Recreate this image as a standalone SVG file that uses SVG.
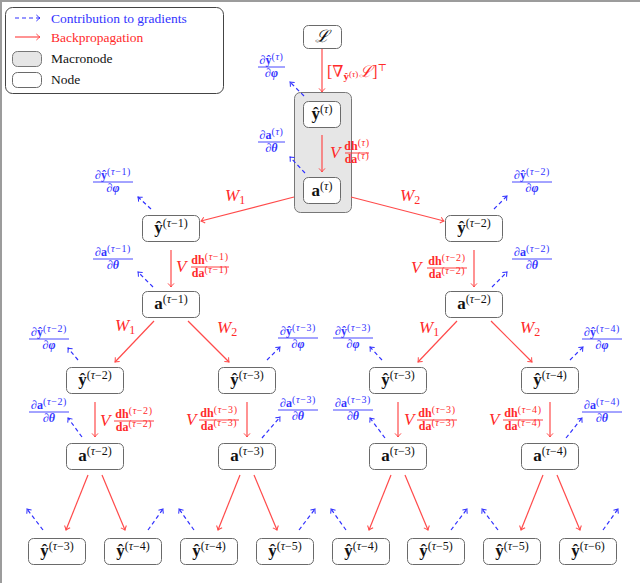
<svg xmlns="http://www.w3.org/2000/svg" width="640" height="583" viewBox="0 0 640 583" font-family="'Liberation Serif','DejaVu Serif',serif">
<defs>
<style>
text{font-family:"Liberation Serif","DejaVu Serif",serif}
.node{fill:#fff;stroke:#6a6a6a;stroke-width:1}
.macro{fill:#e6e6e6;stroke:#777;stroke-width:1}
.bp{stroke:#ff4a4a;stroke-width:1.2;fill:none;marker-end:url(#ar)}
.gr{stroke:#3030ff;stroke-width:1.2;fill:none;stroke-dasharray:4 3;marker-end:url(#ab)}
.nl{font-size:17px;text-anchor:middle;fill:#111}
.b{font-weight:bold}
.i{font-style:italic}
.bi{font-weight:bold;font-style:italic}
.sup{font-size:12px;font-weight:normal}
.blue{fill:#3333ff}
.red{fill:#ff2a2a}
.fn{font-size:12px;text-anchor:middle}
.fs{font-size:10px;font-weight:normal;letter-spacing:0.6px}
.flb{stroke:#3333ff;stroke-width:0.9}
.flr{stroke:#ff2a2a;stroke-width:0.9}
.V{font-size:17px;font-style:italic}
.W{font-size:17px;font-style:italic}
.lg{font-size:13.5px}
</style>
<marker id="ar" viewBox="-5 -4 6 8" refX="0" refY="0" markerWidth="6" markerHeight="8" orient="auto" markerUnits="userSpaceOnUse">
<path d="M-3.6,-3 Q-1.2,-0.7 0,0 Q-1.2,0.7 -3.6,3" fill="none" stroke="#ff4a4a" stroke-width="1"/>
</marker>
<marker id="ab" viewBox="-5 -4 6 8" refX="0" refY="0" markerWidth="6" markerHeight="8" orient="auto" markerUnits="userSpaceOnUse">
<path d="M-3.6,-3 Q-1.2,-0.7 0,0 Q-1.2,0.7 -3.6,3" fill="none" stroke="#3030ff" stroke-width="1"/>
</marker>
</defs>
<rect x="0" y="0" width="640" height="583" fill="#fff"/>
<line x1="0" y1="1" x2="640" y2="1" stroke="#9c9c9c" stroke-width="2"/>
<line x1="1" y1="0" x2="1" y2="583" stroke="#9c9c9c" stroke-width="2"/>

<g id="legend">
<rect x="5.5" y="7.5" width="218" height="86" rx="7" fill="#fff" stroke="#444" stroke-width="1"/>
<line class="gr" x1="15" y1="18" x2="40" y2="18"/>
<text class="lg blue" x="51" y="23">Contribution to gradients</text>
<line class="bp" x1="15" y1="37" x2="40" y2="37"/>
<text class="lg red" x="51" y="42">Backpropagation</text>
<rect class="macro" x="12.5" y="51.5" width="29" height="15" rx="5"/>
<text class="lg" x="51" y="63" fill="#111">Macronode</text>
<rect class="node" x="12.5" y="72.5" width="29" height="15" rx="5"/>
<text class="lg" x="51" y="84" fill="#111">Node</text>
</g>

<g id="macronode"><rect class="macro" x="294.5" y="92.5" width="57" height="120" rx="6"/></g>

<g id="connectors">
<line class="bp" x1="322" y1="48" x2="322" y2="92"/>
<line class="bp" x1="322" y1="135" x2="322" y2="172"/>
<line class="bp" x1="294" y1="197" x2="201" y2="221"/>
<line class="bp" x1="351" y1="197" x2="444" y2="221"/>
<line class="bp" x1="171" y1="250" x2="171" y2="287"/>
<line class="bp" x1="474" y1="250" x2="474" y2="287"/>
<line class="bp" x1="154" y1="321" x2="115" y2="362"/>
<line class="bp" x1="188" y1="321" x2="229" y2="362"/>
<line class="bp" x1="457" y1="321" x2="418" y2="362"/>
<line class="bp" x1="491" y1="321" x2="532" y2="362"/>
<line class="bp" x1="95" y1="402" x2="95" y2="437"/>
<line class="bp" x1="247" y1="402" x2="247" y2="437"/>
<line class="bp" x1="398" y1="402" x2="398" y2="437"/>
<line class="bp" x1="550" y1="402" x2="550" y2="437"/>
<line class="bp" x1="88" y1="475" x2="66" y2="530"/>
<line class="bp" x1="102" y1="475" x2="125" y2="530"/>
<line class="bp" x1="240" y1="475" x2="218" y2="530"/>
<line class="bp" x1="254" y1="475" x2="277" y2="530"/>
<line class="bp" x1="391" y1="475" x2="369" y2="530"/>
<line class="bp" x1="405" y1="475" x2="428" y2="530"/>
<line class="bp" x1="543" y1="475" x2="521" y2="530"/>
<line class="bp" x1="557" y1="475" x2="580" y2="530"/>

<line class="gr" x1="304" y1="96" x2="290" y2="82"/>
<line class="gr" x1="305" y1="173" x2="290" y2="157"/>
<line class="gr" x1="151" y1="209" x2="138" y2="197"/>
<line class="gr" x1="153" y1="287" x2="138" y2="272"/>
<line class="gr" x1="494" y1="209" x2="507" y2="196"/>
<line class="gr" x1="492" y1="287" x2="507" y2="272"/>
<line class="gr" x1="78" y1="360" x2="68" y2="348"/>
<line class="gr" x1="82" y1="437" x2="68" y2="418"/>
<line class="gr" x1="267" y1="360" x2="280" y2="347"/>
<line class="gr" x1="262" y1="438" x2="280" y2="417"/>
<line class="gr" x1="382" y1="360" x2="370" y2="347"/>
<line class="gr" x1="385" y1="438" x2="370" y2="418"/>
<line class="gr" x1="570" y1="360" x2="583" y2="347"/>
<line class="gr" x1="566" y1="438" x2="582" y2="418"/>
<line class="gr" x1="43" y1="530" x2="27" y2="509"/>
<line class="gr" x1="148" y1="530" x2="163" y2="509"/>
<line class="gr" x1="194" y1="530" x2="179" y2="509"/>
<line class="gr" x1="299" y1="530" x2="315" y2="509"/>
<line class="gr" x1="346" y1="530" x2="331" y2="509"/>
<line class="gr" x1="451" y1="530" x2="467" y2="509"/>
<line class="gr" x1="498" y1="530" x2="482" y2="509"/>
<line class="gr" x1="603" y1="530" x2="618" y2="509"/>
</g>

<g id="edge-labels">
<text class="red" x="327" y="77" font-size="16">[∇<tspan class="b" font-size="11" dy="3">ŷ</tspan><tspan font-size="9" dy="-3">(<tspan class="i">τ</tspan>)</tspan><tspan class="i" dx="1" dy="0">ℒ</tspan>]<tspan font-size="10" dy="-6">⊤</tspan></text>
<text class="red V" x="330" y="158" font-size="16">V</text>
<g class="red"><text class="fn b" x="357" y="150">dh<tspan class="fs" dy="-4">(<tspan class="i">τ</tspan>)</tspan></text><line class="flr" x1="345" y1="153" x2="369" y2="153"/><text class="fn b" x="357" y="163">da<tspan class="fs" dy="-4">(<tspan class="i">τ</tspan>)</tspan></text></g>

<text class="red W" x="225" y="201">W<tspan font-size="12" dy="3" font-style="normal">1</tspan></text>
<text class="red W" x="400" y="201">W<tspan font-size="12" dy="3" font-style="normal">2</tspan></text>
<text class="red W" x="115" y="331">W<tspan font-size="12" dy="3" font-style="normal">1</tspan></text>
<text class="red W" x="217" y="333">W<tspan font-size="12" dy="3" font-style="normal">2</tspan></text>
<text class="red W" x="419" y="333">W<tspan font-size="12" dy="3" font-style="normal">1</tspan></text>
<text class="red W" x="520" y="333">W<tspan font-size="12" dy="3" font-style="normal">2</tspan></text>

<text class="red V" x="176" y="272">V</text>
<g class="red"><text class="fn b" x="210" y="264">dh<tspan class="fs" dy="-4">(<tspan class="i">τ</tspan>−1)</tspan></text><line class="flr" x1="191" y1="267" x2="229" y2="267"/><text class="fn b" x="210" y="277">da<tspan class="fs" dy="-4">(<tspan class="i">τ</tspan>−1)</tspan></text></g>
<text class="red V" x="411" y="273">V</text>
<g class="red"><text class="fn b" x="447" y="265">dh<tspan class="fs" dy="-4">(<tspan class="i">τ</tspan>−2)</tspan></text><line class="flr" x1="427" y1="268" x2="467" y2="268"/><text class="fn b" x="447" y="278">da<tspan class="fs" dy="-4">(<tspan class="i">τ</tspan>−2)</tspan></text></g>
<text class="red V" x="100" y="426">V</text>
<g class="red"><text class="fn b" x="134" y="418">dh<tspan class="fs" dy="-4">(<tspan class="i">τ</tspan>−2)</tspan></text><line class="flr" x1="114" y1="421" x2="154" y2="421"/><text class="fn b" x="134" y="431">da<tspan class="fs" dy="-4">(<tspan class="i">τ</tspan>−2)</tspan></text></g>
<text class="red V" x="186" y="425">V</text>
<g class="red"><text class="fn b" x="219" y="417">dh<tspan class="fs" dy="-4">(<tspan class="i">τ</tspan>−3)</tspan></text><line class="flr" x1="199" y1="420" x2="239" y2="420"/><text class="fn b" x="219" y="430">da<tspan class="fs" dy="-4">(<tspan class="i">τ</tspan>−3)</tspan></text></g>
<text class="red V" x="404" y="425">V</text>
<g class="red"><text class="fn b" x="437" y="417">dh<tspan class="fs" dy="-4">(<tspan class="i">τ</tspan>−3)</tspan></text><line class="flr" x1="417" y1="420" x2="457" y2="420"/><text class="fn b" x="437" y="430">da<tspan class="fs" dy="-4">(<tspan class="i">τ</tspan>−3)</tspan></text></g>
<text class="red V" x="489" y="425">V</text>
<g class="red"><text class="fn b" x="523" y="417">dh<tspan class="fs" dy="-4">(<tspan class="i">τ</tspan>−4)</tspan></text><line class="flr" x1="503" y1="420" x2="543" y2="420"/><text class="fn b" x="523" y="430">da<tspan class="fs" dy="-4">(<tspan class="i">τ</tspan>−4)</tspan></text></g>

<g class="blue"><text class="fn" x="271.5" y="64">∂<tspan class="b">ŷ</tspan><tspan class="fs" dy="-4">(<tspan class="i">τ</tspan>)</tspan></text><line class="flb" x1="258" y1="67" x2="285" y2="67"/><text class="fn" x="271.5" y="77">∂<tspan class="bi">φ</tspan></text></g>
<g class="blue"><text class="fn" x="271.5" y="139">∂<tspan class="b">a</tspan><tspan class="fs" dy="-4">(<tspan class="i">τ</tspan>)</tspan></text><line class="flb" x1="258" y1="142" x2="285" y2="142"/><text class="fn" x="271.5" y="152">∂<tspan class="bi">θ</tspan></text></g>
<g class="blue"><text class="fn" x="113" y="179">∂<tspan class="b">ŷ</tspan><tspan class="fs" dy="-4">(<tspan class="i">τ</tspan>−1)</tspan></text><line class="flb" x1="93" y1="182" x2="133" y2="182"/><text class="fn" x="113" y="192">∂<tspan class="bi">φ</tspan></text></g>
<g class="blue"><text class="fn" x="113" y="256">∂<tspan class="b">a</tspan><tspan class="fs" dy="-4">(<tspan class="i">τ</tspan>−1)</tspan></text><line class="flb" x1="93" y1="259" x2="133" y2="259"/><text class="fn" x="113" y="269">∂<tspan class="bi">θ</tspan></text></g>
<g class="blue"><text class="fn" x="532" y="179">∂<tspan class="b">ŷ</tspan><tspan class="fs" dy="-4">(<tspan class="i">τ</tspan>−2)</tspan></text><line class="flb" x1="512" y1="182" x2="552" y2="182"/><text class="fn" x="532" y="192">∂<tspan class="bi">φ</tspan></text></g>
<g class="blue"><text class="fn" x="532" y="256">∂<tspan class="b">a</tspan><tspan class="fs" dy="-4">(<tspan class="i">τ</tspan>−2)</tspan></text><line class="flb" x1="512" y1="259" x2="552" y2="259"/><text class="fn" x="532" y="269">∂<tspan class="bi">θ</tspan></text></g>
<g class="blue"><text class="fn" x="49" y="336">∂<tspan class="b">ŷ</tspan><tspan class="fs" dy="-4">(<tspan class="i">τ</tspan>−2)</tspan></text><line class="flb" x1="29" y1="339" x2="69" y2="339"/><text class="fn" x="49" y="349">∂<tspan class="bi">φ</tspan></text></g>
<g class="blue"><text class="fn" x="49" y="409">∂<tspan class="b">a</tspan><tspan class="fs" dy="-4">(<tspan class="i">τ</tspan>−2)</tspan></text><line class="flb" x1="29" y1="412" x2="69" y2="412"/><text class="fn" x="49" y="422">∂<tspan class="bi">θ</tspan></text></g>
<g class="blue"><text class="fn" x="298" y="335">∂<tspan class="b">ŷ</tspan><tspan class="fs" dy="-4">(<tspan class="i">τ</tspan>−3)</tspan></text><line class="flb" x1="278" y1="338" x2="318" y2="338"/><text class="fn" x="298" y="348">∂<tspan class="bi">φ</tspan></text></g>
<g class="blue"><text class="fn" x="298" y="407">∂<tspan class="b">a</tspan><tspan class="fs" dy="-4">(<tspan class="i">τ</tspan>−3)</tspan></text><line class="flb" x1="278" y1="410" x2="318" y2="410"/><text class="fn" x="298" y="420">∂<tspan class="bi">θ</tspan></text></g>
<g class="blue"><text class="fn" x="353" y="335">∂<tspan class="b">ŷ</tspan><tspan class="fs" dy="-4">(<tspan class="i">τ</tspan>−3)</tspan></text><line class="flb" x1="333" y1="338" x2="373" y2="338"/><text class="fn" x="353" y="348">∂<tspan class="bi">φ</tspan></text></g>
<g class="blue"><text class="fn" x="353" y="407">∂<tspan class="b">a</tspan><tspan class="fs" dy="-4">(<tspan class="i">τ</tspan>−3)</tspan></text><line class="flb" x1="333" y1="410" x2="373" y2="410"/><text class="fn" x="353" y="420">∂<tspan class="bi">θ</tspan></text></g>
<g class="blue"><text class="fn" x="602" y="336">∂<tspan class="b">ŷ</tspan><tspan class="fs" dy="-4">(<tspan class="i">τ</tspan>−4)</tspan></text><line class="flb" x1="582" y1="339" x2="622" y2="339"/><text class="fn" x="602" y="349">∂<tspan class="bi">φ</tspan></text></g>
<g class="blue"><text class="fn" x="602" y="409">∂<tspan class="b">a</tspan><tspan class="fs" dy="-4">(<tspan class="i">τ</tspan>−4)</tspan></text><line class="flb" x1="582" y1="412" x2="622" y2="412"/><text class="fn" x="602" y="422">∂<tspan class="bi">θ</tspan></text></g>
</g>

<g id="n-L"><rect class="node" x="303.5" y="25.5" width="38" height="23" rx="5"/><text class="nl i" x="322" y="42" font-size="16">ℒ</text></g>
<g id="n-y-t"><rect class="node" x="303.5" y="101.5" width="37" height="26" rx="5"/><text class="nl" x="322" y="119"><tspan class="b">ŷ</tspan><tspan class="sup" dy="-6">(<tspan class="i">τ</tspan>)</tspan></text></g>
<g id="n-a-t"><rect class="node" x="303.5" y="177.5" width="37" height="26" rx="5"/><text class="nl" x="322" y="196"><tspan class="b">a</tspan><tspan class="sup" dy="-6">(<tspan class="i">τ</tspan>)</tspan></text></g>

<g id="n-y-t1"><rect class="node" x="142.5" y="215.5" width="57" height="26" rx="5"/><text class="nl" x="171" y="233"><tspan class="b">ŷ</tspan><tspan class="sup" dy="-6">(<tspan class="i">τ</tspan>−1)</tspan></text></g>
<g id="n-a-t1"><rect class="node" x="142.5" y="291.5" width="57" height="26" rx="5"/><text class="nl" x="171" y="309"><tspan class="b">a</tspan><tspan class="sup" dy="-6">(<tspan class="i">τ</tspan>−1)</tspan></text></g>
<g id="n-y-t2"><rect class="node" x="445.5" y="215.5" width="57" height="26" rx="5"/><text class="nl" x="474" y="233"><tspan class="b">ŷ</tspan><tspan class="sup" dy="-6">(<tspan class="i">τ</tspan>−2)</tspan></text></g>
<g id="n-a-t2"><rect class="node" x="445.5" y="291.5" width="57" height="26" rx="5"/><text class="nl" x="474" y="309"><tspan class="b">a</tspan><tspan class="sup" dy="-6">(<tspan class="i">τ</tspan>−2)</tspan></text></g>

<g id="n-y-t2-l"><rect class="node" x="66.5" y="367.5" width="57" height="26" rx="5"/><text class="nl" x="95" y="385"><tspan class="b">ŷ</tspan><tspan class="sup" dy="-6">(<tspan class="i">τ</tspan>−2)</tspan></text></g>
<g id="n-a-t2-l"><rect class="node" x="66.5" y="443.5" width="57" height="26" rx="5"/><text class="nl" x="95" y="461"><tspan class="b">a</tspan><tspan class="sup" dy="-6">(<tspan class="i">τ</tspan>−2)</tspan></text></g>
<g id="n-y-t3-a"><rect class="node" x="218.5" y="367.5" width="57" height="26" rx="5"/><text class="nl" x="247" y="385"><tspan class="b">ŷ</tspan><tspan class="sup" dy="-6">(<tspan class="i">τ</tspan>−3)</tspan></text></g>
<g id="n-a-t3-a"><rect class="node" x="218.5" y="443.5" width="57" height="26" rx="5"/><text class="nl" x="247" y="461"><tspan class="b">a</tspan><tspan class="sup" dy="-6">(<tspan class="i">τ</tspan>−3)</tspan></text></g>
<g id="n-y-t3-b"><rect class="node" x="369.5" y="367.5" width="57" height="26" rx="5"/><text class="nl" x="398" y="385"><tspan class="b">ŷ</tspan><tspan class="sup" dy="-6">(<tspan class="i">τ</tspan>−3)</tspan></text></g>
<g id="n-a-t3-b"><rect class="node" x="369.5" y="443.5" width="57" height="26" rx="5"/><text class="nl" x="398" y="461"><tspan class="b">a</tspan><tspan class="sup" dy="-6">(<tspan class="i">τ</tspan>−3)</tspan></text></g>
<g id="n-y-t4"><rect class="node" x="521.5" y="367.5" width="57" height="26" rx="5"/><text class="nl" x="550" y="385"><tspan class="b">ŷ</tspan><tspan class="sup" dy="-6">(<tspan class="i">τ</tspan>−4)</tspan></text></g>
<g id="n-a-t4"><rect class="node" x="521.5" y="443.5" width="57" height="26" rx="5"/><text class="nl" x="550" y="461"><tspan class="b">a</tspan><tspan class="sup" dy="-6">(<tspan class="i">τ</tspan>−4)</tspan></text></g>

<g id="n-b1"><rect class="node" x="28.5" y="538.5" width="57" height="26" rx="5"/><text class="nl" x="57" y="556"><tspan class="b">ŷ</tspan><tspan class="sup" dy="-6">(<tspan class="i">τ</tspan>−3)</tspan></text></g>
<g id="n-b2"><rect class="node" x="104.5" y="538.5" width="57" height="26" rx="5"/><text class="nl" x="133" y="556"><tspan class="b">ŷ</tspan><tspan class="sup" dy="-6">(<tspan class="i">τ</tspan>−4)</tspan></text></g>
<g id="n-b3"><rect class="node" x="180.5" y="538.5" width="57" height="26" rx="5"/><text class="nl" x="209" y="556"><tspan class="b">ŷ</tspan><tspan class="sup" dy="-6">(<tspan class="i">τ</tspan>−4)</tspan></text></g>
<g id="n-b4"><rect class="node" x="256.5" y="538.5" width="57" height="26" rx="5"/><text class="nl" x="285" y="556"><tspan class="b">ŷ</tspan><tspan class="sup" dy="-6">(<tspan class="i">τ</tspan>−5)</tspan></text></g>
<g id="n-b5"><rect class="node" x="332.5" y="538.5" width="57" height="26" rx="5"/><text class="nl" x="361" y="556"><tspan class="b">ŷ</tspan><tspan class="sup" dy="-6">(<tspan class="i">τ</tspan>−4)</tspan></text></g>
<g id="n-b6"><rect class="node" x="407.5" y="538.5" width="57" height="26" rx="5"/><text class="nl" x="436" y="556"><tspan class="b">ŷ</tspan><tspan class="sup" dy="-6">(<tspan class="i">τ</tspan>−5)</tspan></text></g>
<g id="n-b7"><rect class="node" x="483.5" y="538.5" width="57" height="26" rx="5"/><text class="nl" x="512" y="556"><tspan class="b">ŷ</tspan><tspan class="sup" dy="-6">(<tspan class="i">τ</tspan>−5)</tspan></text></g>
<g id="n-b8"><rect class="node" x="559.5" y="538.5" width="57" height="26" rx="5"/><text class="nl" x="588" y="556"><tspan class="b">ŷ</tspan><tspan class="sup" dy="-6">(<tspan class="i">τ</tspan>−6)</tspan></text></g>
</svg>
